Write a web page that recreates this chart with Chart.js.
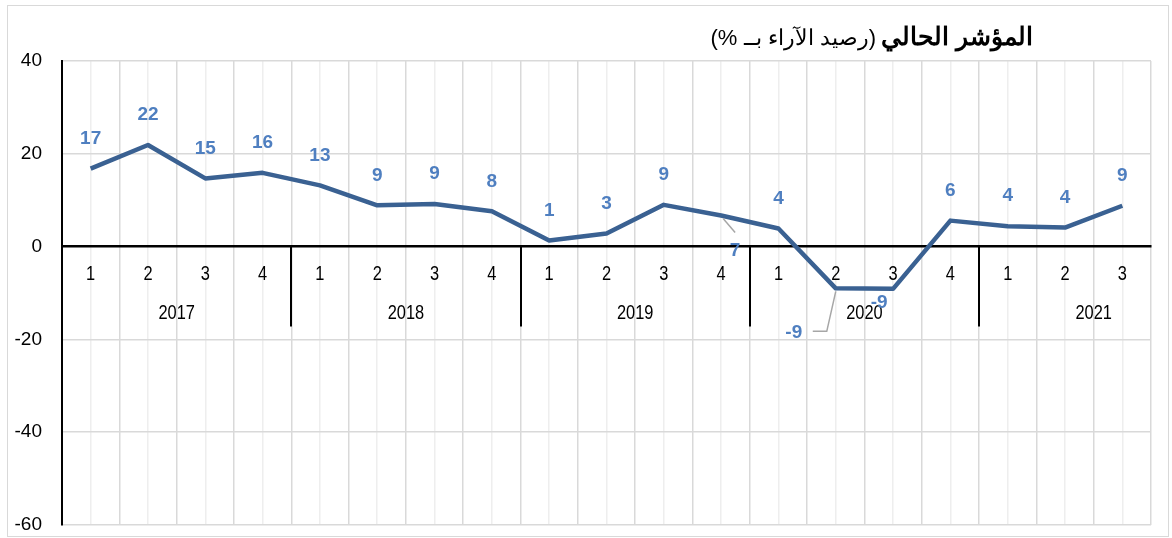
<!DOCTYPE html>
<html>
<head>
<meta charset="utf-8">
<script src="https://cdn.jsdelivr.net/npm/chart.js@4"></script>
<style>
  body { margin: 0; background: #fff; }
  #chart { display: block; }
</style>
</head>
<body>
<canvas id="chart" width="1172" height="538"></canvas>
<script>
const quarters = ['1', '2', '3', '4', '1', '2', '3', '4', '1', '2', '3', '4', '1', '2', '3', '4', '1', '2', '3'];
const years = ['2017', '2018', '2019', '2020', '2021'];
const quartersPerYear = [4, 4, 4, 4, 3];
const values = [16.8, 21.9, 14.7, 15.9, 13.2, 8.9, 9.2, 7.6, 1.3, 2.8, 9.0, 6.7, 3.9, -9.0, -9.1, 5.6, 4.4, 4.1, 8.8];
const valueLabels = [17, 22, 15, 16, 13, 9, 9, 8, 1, 3, 9, 7, 4, -9, -9, 6, 4, 4, 9];
const titleBold = 'المؤشر الحالي';
const titleNormal = '(رصيد الآراء بــ %)';

const lineColor = '#3A6192';
const labelColor = '#4F7FC0';
const gridColor = '#d9d9d9';
const sansFont = "'Liberation Sans', Arial, sans-serif";

// labels that Excel moved away from their point (dx, dy from point, leader line)
const labelMoves = {
  11: { dx: 14, dy: 35, leader: [[2, 3], [14, 17]] },
  13: { dx: -42, dy: 44, leader: [[0, 3], [-9, 43], [-23, 43]] },
  14: { dx: -14, dy: 14 },
};

// Arial Narrow look: squeeze regular sans horizontally
function narrowText(ctx, text, x, y) {
  ctx.save();
  ctx.translate(x, y);
  ctx.scale(0.82, 1);
  ctx.fillText(text, 0, 0);
  ctx.restore();
}

const framePlugin = {
  id: 'frame',
  beforeDraw(chart) {
    const ctx = chart.ctx;
    ctx.save();
    ctx.fillStyle = '#fff';
    ctx.fillRect(0, 0, chart.width, chart.height);
    ctx.strokeStyle = '#d9d9d9';
    ctx.lineWidth = 1;
    ctx.strokeRect(7.5, 5.5, 1161, 531);

    // title, right to left
    ctx.direction = 'rtl';
    ctx.textAlign = 'right';
    ctx.textBaseline = 'alphabetic';
    ctx.fillStyle = '#000';
    ctx.font = 'bold 25px ' + sansFont;
    const right = 1033;
    ctx.fillText(titleBold, right, 45);
    const w = ctx.measureText(titleBold).width;
    ctx.font = '22px ' + sansFont;
    ctx.fillText(titleNormal, right - w - 5, 45);
    ctx.restore();
  },
  beforeDatasetsDraw(chart) {
    const ctx = chart.ctx;
    const x = chart.scales.x;
    const y = chart.scales.y;
    const y0 = y.getPixelForValue(0);
    const step = x.getPixelForValue(1) - x.getPixelForValue(0);
    ctx.save();
    ctx.strokeStyle = '#000';
    ctx.lineWidth = 2;
    ctx.fillStyle = '#000';
    ctx.font = '20px ' + sansFont;
    ctx.textAlign = 'center';
    ctx.textBaseline = 'middle';
    quarters.forEach((q, i) => {
      narrowText(ctx, q, x.getPixelForValue(i), y0 + 28);
    });
    let start = 0;
    years.forEach((yr, i) => {
      const left = x.getPixelForValue(start) - step / 2;
      ctx.beginPath();
      ctx.moveTo(Math.round(left), y0);
      ctx.lineTo(Math.round(left), y0 + 80);
      ctx.stroke();
      narrowText(ctx, yr, left + step * 2, y0 + 67);
      start += quartersPerYear[i];
    });
    ctx.restore();
  },
  afterDatasetsDraw(chart) {
    const ctx = chart.ctx;
    const meta = chart.getDatasetMeta(0);
    ctx.save();
    ctx.font = 'bold 19px ' + sansFont;
    ctx.fillStyle = labelColor;
    ctx.textAlign = 'center';
    ctx.textBaseline = 'middle';
    meta.data.forEach((pt, i) => {
      const mv = labelMoves[i];
      if (mv && mv.leader) {
        ctx.strokeStyle = '#a6a6a6';
        ctx.lineWidth = 1.5;
        ctx.beginPath();
        mv.leader.forEach(([dx, dy], k) => {
          if (k === 0) ctx.moveTo(pt.x + dx, pt.y + dy);
          else ctx.lineTo(pt.x + dx, pt.y + dy);
        });
        ctx.stroke();
      }
      const lx = mv ? pt.x + mv.dx : pt.x;
      const ly = mv ? pt.y + mv.dy : pt.y - 30;
      ctx.fillText(String(valueLabels[i]), lx, ly);
    });
    ctx.restore();
  },
};

new Chart(document.getElementById('chart'), {
  type: 'line',
  data: {
    labels: quarters,
    datasets: [
      {
        data: values,
        borderColor: lineColor,
        borderWidth: 4.5,
        borderJoinStyle: 'round',
        pointRadius: 0,
        tension: 0,
        fill: false,
      },
    ],
  },
  options: {
    responsive: false,
    animation: false,
    layout: { padding: { left: 0, top: 61, right: 21, bottom: 13 } },
    plugins: {
      legend: { display: false },
      tooltip: { enabled: false },
      title: { display: false },
    },
    scales: {
      x: {
        type: 'category',
        position: { y: 0 },
        offset: true,
        afterFit: (s) => { s.height = 0; },
        grid: {
          offset: true,
          drawTicks: false,
          color: (c) => (c.index === 0 ? 'rgba(0,0,0,0)' : gridColor),
          lineWidth: 1.5,
        },
        border: { display: true, color: '#000', width: 2.5 },
        ticks: { display: false },
      },
      x2: {
        type: 'category',
        labels: quarters,
        position: { y: 0 },
        offset: true,
        afterFit: (s) => { s.height = 0; },
        grid: { offset: false, drawTicks: false, color: '#eeeeee', lineWidth: 1.5 },
        border: { display: false },
        ticks: { display: false },
      },
      y: {
        min: -60,
        max: 40,
        afterFit: (s) => { s.width = 62; },
        grid: {
          drawTicks: true,
          tickLength: 20,
          tickColor: 'rgba(0,0,0,0)',
          color: (c) => (c.tick && c.tick.value === 0 ? 'rgba(0,0,0,0)' : gridColor),
          lineWidth: 1.5,
        },
        border: { display: true, color: '#000', width: 2 },
        ticks: {
          stepSize: 20,
          padding: 0,
          color: '#000',
          font: { size: 19, family: sansFont },
        },
      },
    },
  },
  plugins: [framePlugin],
});
</script>
</body>
</html>
